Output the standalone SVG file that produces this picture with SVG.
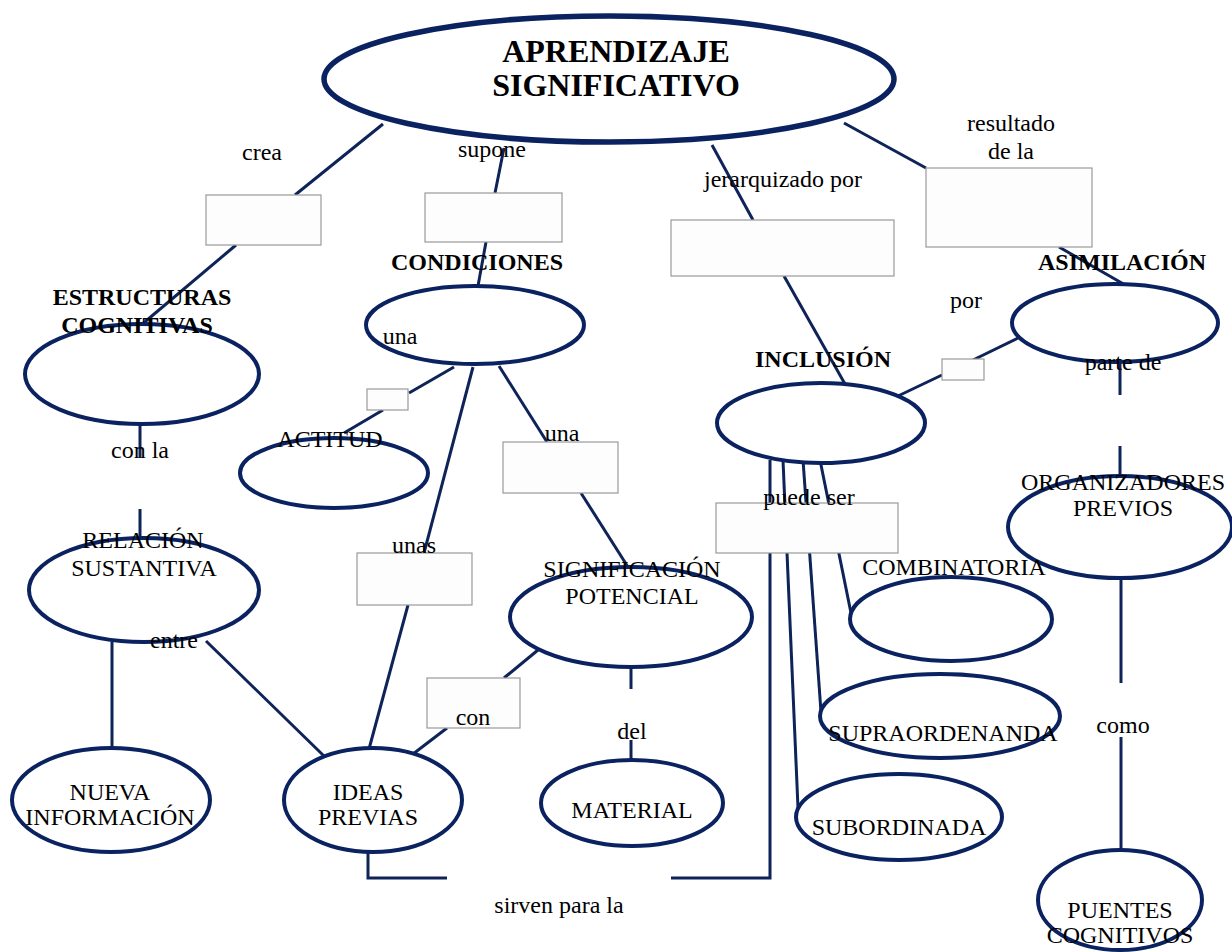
<svg xmlns="http://www.w3.org/2000/svg" width="1232" height="952" viewBox="0 0 1232 952">
<style>
text{font-family:"Liberation Serif","Times New Roman",serif;font-size:24px;fill:#000;text-anchor:middle}
.b{font-weight:bold;font-size:24px}
.t{font-weight:bold;font-size:32px}
.e{fill:#fff;stroke:#0b2260;stroke-width:4}
.em{fill:#fff;stroke:#0b2260;stroke-width:5.5}
.bx{fill:#fdfdfd;stroke:#9a9a9a;stroke-width:1.2}
.c line,.c polyline{stroke:#0e2358;stroke-width:3;fill:none}
</style>
<rect width="1232" height="952" fill="#fff"/>
<g id="connectors" class="c">
<line x1="383" y1="124" x2="295" y2="195"/>
<line x1="236" y1="245" x2="140" y2="326"/>
<line x1="504" y1="148" x2="495" y2="193"/>
<line x1="486" y1="242" x2="478" y2="286"/>
<line x1="454" y1="367" x2="409" y2="393"/>
<line x1="383" y1="410" x2="344" y2="433"/>
<line x1="473" y1="367" x2="424" y2="553"/>
<line x1="408" y1="605" x2="369" y2="749"/>
<line x1="499" y1="366" x2="547" y2="442"/>
<line x1="581" y1="493" x2="628" y2="567"/>
<line x1="538" y1="650" x2="504" y2="678"/>
<line x1="447" y1="728" x2="413" y2="754"/>
<line x1="631" y1="667" x2="631" y2="689"/>
<line x1="631" y1="740" x2="631" y2="760"/>
<line x1="140" y1="424" x2="140" y2="458"/>
<line x1="140" y1="509" x2="140" y2="539"/>
<line x1="112" y1="642" x2="112" y2="748"/>
<line x1="206" y1="641" x2="324" y2="756"/>
<polyline points="368,852 368,878 447,878"/>
<polyline points="671,878 770,878 770,460"/>
<line x1="783" y1="460" x2="798" y2="808"/>
<line x1="803" y1="460" x2="821" y2="712"/>
<line x1="820" y1="460" x2="851" y2="613"/>
<line x1="712" y1="145" x2="753" y2="220"/>
<line x1="784" y1="276" x2="845" y2="384"/>
<line x1="844" y1="123" x2="926" y2="168"/>
<line x1="1059" y1="247" x2="1127" y2="286"/>
<line x1="1018" y1="338" x2="973" y2="360"/>
<line x1="942" y1="375" x2="898" y2="396"/>
<line x1="1120" y1="362" x2="1120" y2="395"/>
<line x1="1120" y1="446" x2="1120" y2="474"/>
<line x1="1121" y1="578" x2="1121" y2="683"/>
<line x1="1121" y1="737" x2="1121" y2="850"/>
</g>
<g id="boxes">
<rect class="bx" x="206" y="195" width="115" height="50"/>
<rect class="bx" x="425" y="193" width="137" height="49"/>
<rect class="bx" x="367" y="389" width="41" height="21"/>
<rect class="bx" x="503" y="442" width="115" height="51"/>
<rect class="bx" x="357" y="553" width="115" height="52"/>
<rect class="bx" x="427" y="678" width="93" height="50"/>
<rect class="bx" x="671" y="220" width="223" height="56"/>
<rect class="bx" x="926" y="168" width="166" height="79"/>
<rect class="bx" x="942" y="359" width="42" height="21"/>
<rect class="bx" x="716" y="503" width="182" height="50"/>
</g>
<g id="n-aprendizaje">
<ellipse class="em" cx="609" cy="79" rx="285" ry="63"/>
<text class="t" x="616" y="62">APRENDIZAJE</text>
<text class="t" x="616" y="96">SIGNIFICATIVO</text>
</g>
<g id="n-estructuras">
<ellipse class="e" cx="142" cy="374" rx="117" ry="50"/>
<text class="b" x="142" y="305">ESTRUCTURAS</text>
<text class="b" x="137" y="333">COGNITIVAS</text>
</g>
<g id="n-condiciones">
<ellipse class="e" cx="475" cy="325" rx="109" ry="39"/>
<text class="b" x="477" y="270">CONDICIONES</text>
</g>
<g id="n-actitud">
<ellipse class="e" cx="334" cy="473" rx="94" ry="35"/>
<text x="330" y="447">ACTITUD</text>
</g>
<g id="n-relacion">
<ellipse class="e" cx="144" cy="590" rx="115" ry="52"/>
<text x="143" y="548">RELACIÓN</text>
<text x="144" y="576">SUSTANTIVA</text>
</g>
<g id="n-significacion">
<ellipse class="e" cx="631" cy="617" rx="121" ry="50"/>
<text x="632" y="577">SIGNIFICACIÓN</text>
<text x="632" y="604">POTENCIAL</text>
</g>
<g id="n-nueva">
<ellipse class="e" cx="111" cy="800" rx="99" ry="52"/>
<text x="110" y="800">NUEVA</text>
<text x="110" y="825">INFORMACIÓN</text>
</g>
<g id="n-ideas">
<ellipse class="e" cx="373" cy="800" rx="89" ry="52"/>
<text x="368" y="800">IDEAS</text>
<text x="368" y="825">PREVIAS</text>
</g>
<g id="n-material">
<ellipse class="e" cx="632" cy="803" rx="91" ry="43"/>
<text x="632" y="818">MATERIAL</text>
</g>
<g id="n-inclusion">
<ellipse class="e" cx="821" cy="423" rx="104" ry="40"/>
<text class="b" x="823" y="367">INCLUSIÓN</text>
</g>
<g id="n-asimilacion">
<ellipse class="e" cx="1115" cy="323" rx="103" ry="39"/>
<text class="b" x="1122" y="270">ASIMILACIÓN</text>
</g>
<g id="n-organizadores">
<ellipse class="e" cx="1120" cy="527" rx="112" ry="51"/>
<text x="1123" y="490">ORGANIZADORES</text>
<text x="1123" y="516">PREVIOS</text>
</g>
<g id="n-combinatoria">
<ellipse class="e" cx="951" cy="619" rx="101" ry="42"/>
<text x="954" y="575">COMBINATORIA</text>
</g>
<g id="n-supraordenanda">
<ellipse class="e" cx="940" cy="716" rx="120" ry="42"/>
<text x="943" y="741">SUPRAORDENANDA</text>
</g>
<g id="n-subordinada">
<ellipse class="e" cx="899" cy="817" rx="103" ry="43"/>
<text x="899" y="835">SUBORDINADA</text>
</g>
<g id="n-puentes">
<ellipse class="e" cx="1120" cy="900" rx="82" ry="50"/>
<text x="1120" y="918">PUENTES</text>
<text x="1120" y="943">COGNITIVOS</text>
</g>
<g id="labels">
<text x="262" y="160">crea</text>
<text x="492" y="157">supone</text>
<text x="783" y="187">jerarquizado por</text>
<text x="1011" y="131">resultado</text>
<text x="1011" y="159">de la</text>
<text x="400" y="344">una</text>
<text x="562" y="441">una</text>
<text x="414" y="553">unas</text>
<text x="140" y="458">con la</text>
<text x="174" y="648">entre</text>
<text x="473" y="725">con</text>
<text x="632" y="739">del</text>
<text x="559" y="913">sirven para la</text>
<text x="966" y="308">por</text>
<text x="1123" y="370">parte de</text>
<text x="809" y="505">puede ser</text>
<text x="1123" y="733">como</text>
</g>
</svg>
